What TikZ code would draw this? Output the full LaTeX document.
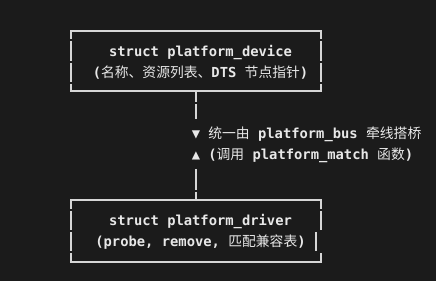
\documentclass[tikz,border=0pt]{standalone}
\usepackage{fontspec}
\setmonofont{DejaVu Sans Mono}
\newfontfamily\zhfont{Noto Sans CJK SC}
\newcommand\zh[1]{{\zhfont\mdseries #1}}
\definecolor{bgdark}{HTML}{1B1B1B}
\definecolor{inkline}{HTML}{D6D6D6}
\definecolor{inktext}{HTML}{E8E8E8}
\tikzset{
  boxtext/.style={text=inktext, inner sep=0pt, align=center,
    font=\fontsize{10.35pt}{15.75pt}\selectfont\ttfamily\bfseries},
  frame/.style={draw=inkline, line width=1.2pt},
  wire/.style={draw=inkline, line width=1.2pt},
  nick/.style={draw=bgdark, line width=0.8pt},
}
\begin{document}
\begin{tikzpicture}[x=0.75pt,y=-0.75pt]
  \useasboundingbox[fill=bgdark] (0,0) rectangle (436,281);
  \node[boxtext] (device) at (200.5,62.5)
    {struct platform\_device\\(\zh{名称、资源列表、}DTS \zh{节点指针})};
  \node[boxtext] (driver) at (200.5,231.5)
    {struct platform\_driver\\(probe, remove, \zh{匹配兼容表})};
  \node[boxtext, anchor=west, align=left] (bus) at (191.5,145)
    {▼ \zh{统一由} platform\_bus \zh{牵线搭桥}\\▲ (\zh{调用} platform\_match \zh{函数})};
  \draw[frame] (71,31) rectangle (321,91);
  \draw[frame] (321,230) -- (321,200) -- (71,200) -- (71,262) -- (321,262) -- (321,253)
               (316,232) -- (316,251);
  \coordinate (devfoot) at (196,91);
  \coordinate (busin) at (196,119);
  \coordinate (busout) at (196,169);
  \coordinate (drvhead) at (196,200);
  \draw[wire] (devfoot) -- (busin);
  \draw[wire] (busout) -- (drvhead);
  \foreach \x/\y in {71/40,71/62,71/83,321/40,321/62,321/83,196/103,196/191,
                     71/210,71/231,71/252,321/210}
    \draw[nick] (\x-2,\y) -- (\x+2,\y);
\end{tikzpicture}
\end{document}
